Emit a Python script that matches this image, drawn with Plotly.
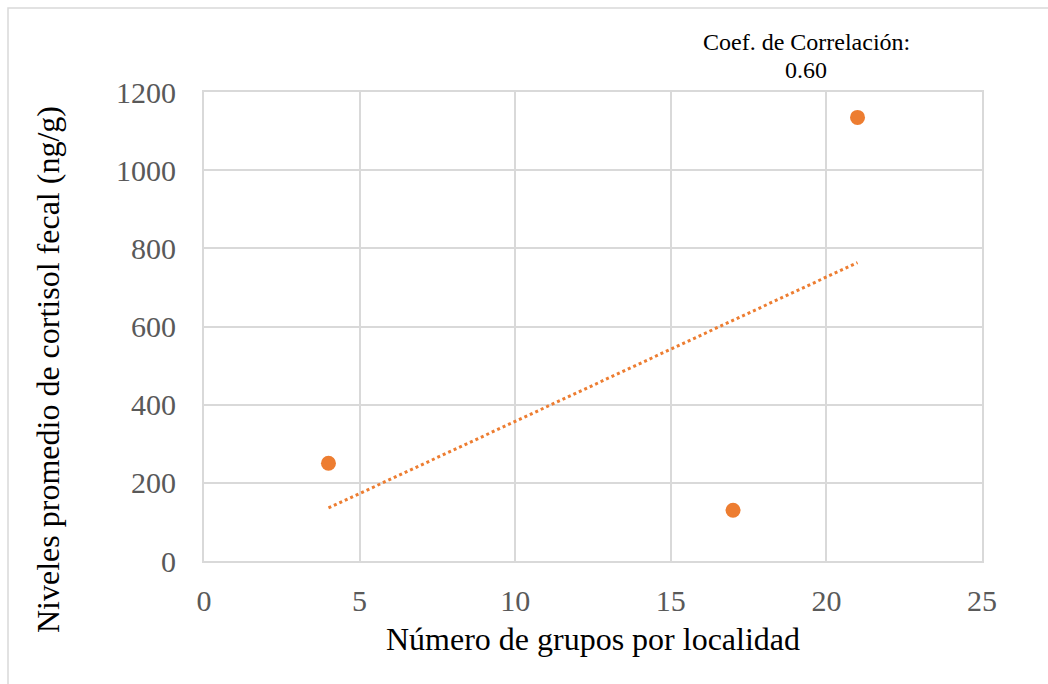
import numpy as np
import plotly.graph_objects as go

grupos = [4, 17, 21]
cortisol = [250, 130, 1135]
x_ticks = [0, 5, 10, 15, 20, 25]
y_ticks = [0, 200, 400, 600, 800, 1000, 1200]
x_title = "Número de grupos por localidad"
y_title = "Niveles promedio de cortisol fecal (ng/g)"
corr_lines = ["Coef. de Correlación:", "0.60"]

xa = np.array(grupos, dtype=float)
ya = np.array(cortisol, dtype=float)
slope, intercept = np.polyfit(xa, ya, 1)
tx = np.array([xa.min(), xa.max()])
ty = slope * tx + intercept

ORANGE = "#ED7D31"
FONT = "Liberation Serif"

L, R, T, B = 204, 66, 92, 123
PW, PH = 1048 - L - R, 684 - T - B

def px(x):
    return (x - L) / PW

def py(y):
    return (684 - B - y) / PH

fig = go.Figure()
fig.add_trace(go.Scatter(x=tx, y=ty, mode="lines",
                         line=dict(color=ORANGE, width=3, dash="dot"),
                         showlegend=False, hoverinfo="skip"))
fig.add_trace(go.Scatter(x=grupos, y=cortisol, mode="markers",
                         marker=dict(color=ORANGE, size=15),
                         showlegend=False))

axis_common = dict(showgrid=True, gridcolor="#D9D9D9", gridwidth=2, zeroline=False,
                   showline=True, linecolor="#D9D9D9", linewidth=2, mirror=True,
                   tickfont=dict(size=30, color="#595959", family=FONT),
                   ticks="")

fig.update_layout(
    width=1048, height=684,
    margin=dict(l=L, r=R, t=T, b=B),
    paper_bgcolor="white", plot_bgcolor="white",
    font=dict(family=FONT, color="#595959"),
    xaxis=dict(range=[0, 25], tickvals=x_ticks, ticklabelstandoff=12,
               title=dict(text=x_title, font=dict(size=32, color="black", family=FONT),
                          standoff=12),
               **axis_common),
    yaxis=dict(range=[0, 1200], tickvals=y_ticks, ticklabelstandoff=20,
               **axis_common),
    annotations=[
        dict(text=y_title, xref="paper", yref="paper", x=px(48), y=py(370),
             xanchor="center", yanchor="middle", showarrow=False, textangle=-90,
             font=dict(size=32, color="black", family=FONT)),
        dict(text=corr_lines[0], xref="paper", yref="paper", x=px(806), y=py(42),
             xanchor="center", yanchor="middle", showarrow=False,
             font=dict(size=24, color="black", family=FONT)),
        dict(text=corr_lines[1], xref="paper", yref="paper", x=px(806), y=py(70),
             xanchor="center", yanchor="middle", showarrow=False,
             font=dict(size=24, color="black", family=FONT)),
    ],
    shapes=[dict(type="rect", xref="paper", yref="paper",
                 x0=px(8), x1=px(1060), y0=py(700), y1=py(8),
                 line=dict(color="#D9D9D9", width=1.5), layer="below")],
)
fig.write_html("out.html")
